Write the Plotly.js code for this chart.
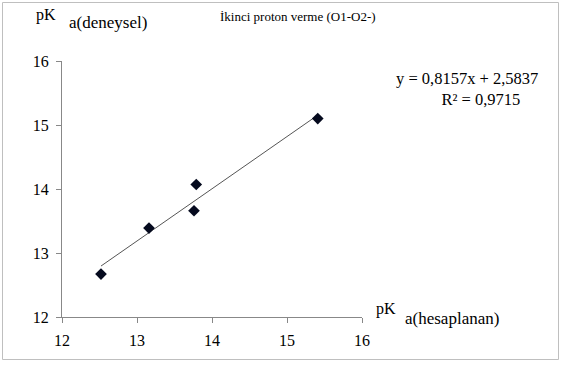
<!DOCTYPE html>
<html>
<head>
<meta charset="utf-8">
<script src="https://cdn.plot.ly/plotly-3.0.1.min.js"></script>
<style>html,body{margin:0;padding:0;background:#fff;}#chart{width:566px;height:367px;}</style>
</head>
<body>
<div id="chart"></div>
<script>
// Data
const xCalc = [12.52, 13.16, 13.79, 13.76, 15.41];   // pKa (hesaplanan)
const yExp  = [12.67, 13.39, 14.07, 13.66, 15.10];   // pKa (deneysel)
const slope = 0.8157;
const intercept = 2.5837;
const rSquared = 0.9715;
const axisTicks = [12, 13, 14, 15, 16];
const titleText = "İkinci proton verme (O1-O2-)";
const eqText = "y = 0,8157x + 2,5837";
const r2Text = "R² = 0,9715";

const W = 566, H = 367;
const M = {l: 62, r: 204, t: 61, b: 50};
const pw = W - M.l - M.r, ph = H - M.t - M.b;
const px = v => (v - M.l) / pw;
const py = v => (H - M.b - v) / ph;

const xMin = Math.min(...xCalc), xMax = Math.max(...xCalc);
const trendX = [xMin, xMax];
const trendY = trendX.map(x => slope * x + intercept);

const FONT = "'Liberation Serif', 'Times New Roman', serif";

const traces = [
  {x: trendX, y: trendY, mode: 'lines', type: 'scatter',
   line: {color: '#555555', width: 1}, hoverinfo: 'skip'},
  {x: xCalc, y: yExp, mode: 'markers', type: 'scatter',
   marker: {symbol: 'diamond', size: 9, color: '#050a1e'}}
];

const ann = (x, y, text, size, xanchor, align) => ({
  xref: 'paper', yref: 'paper', x: px(x), y: py(y), text: text, showarrow: false,
  xanchor: xanchor || 'left', yanchor: 'middle', align: align || 'center',
  font: {family: FONT, size: size, color: '#000'}
});

const pad = '&nbsp;'.repeat(11);

const layout = {
  width: W, height: H,
  margin: M,
  paper_bgcolor: '#fff', plot_bgcolor: '#fff',
  showlegend: false,
  font: {family: FONT, size: 16, color: '#000'},
  xaxis: {range: [12, 16], tickvals: axisTicks, ticktext: axisTicks.map(String),
    showgrid: false, zeroline: false, showline: true, linecolor: '#888', linewidth: 1,
    ticks: 'outside', ticklen: 5, tickcolor: '#888', ticklabelstandoff: 4,
    tickfont: {family: FONT, size: 16, color: '#000'}},
  yaxis: {range: [12, 16], tickvals: axisTicks, ticktext: axisTicks.map(String),
    showgrid: false, zeroline: false, showline: true, linecolor: '#888', linewidth: 1,
    ticks: 'outside', ticklen: 5, tickcolor: '#888', ticklabelstandoff: 4,
    tickfont: {family: FONT, size: 16, color: '#000'}},
  annotations: [
    ann(34, 15, 'pK', 16),
    ann(67, 22, 'a(deneysel)', 17),
    ann(218, 16, titleText, 13),
    ann(394, 88.5, eqText + '<br>' + pad + r2Text, 16.5, 'left', 'left'),
    ann(374, 309, 'pK', 16),
    ann(403, 318, 'a(hesaplanan)', 17)
  ],
  shapes: [
    {type: 'rect', xref: 'paper', yref: 'paper', x0: px(2.5), x1: px(558.5), y0: py(359.5), y1: py(2.5),
     line: {color: '#bfbfbf', width: 1}, fillcolor: 'rgba(0,0,0,0)'}
  ]
};

Plotly.newPlot('chart', traces, layout, {displayModeBar: false, staticPlot: true});
</script>
</body>
</html>
